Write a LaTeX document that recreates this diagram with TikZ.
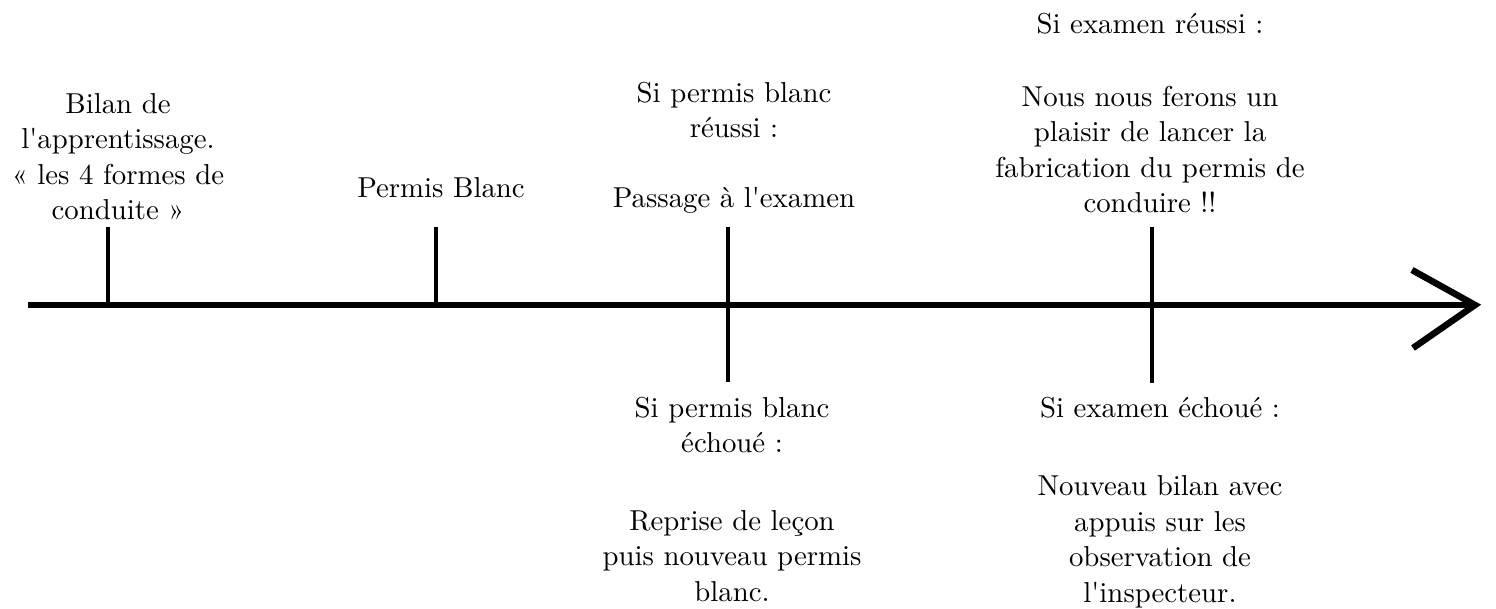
\documentclass[tikz,border=0pt]{standalone}
\usepackage{fontspec}
\setmainfont{lmroman10-regular}[Extension=.otf]
\begin{document}
\begin{tikzpicture}[x=1pt,y=-1pt,
  lbl/.style={align=center, inner sep=0pt, font=\rmfamily\fontsize{28.8}{35.5}\selectfont, anchor=base},
  axisline/.style={line width=6.5pt},
  tickline/.style={line width=4pt}]
\path[use as bounding box] (0,0) rectangle (1496,609);
% axis
\coordinate (start) at (28,305);
\coordinate (tip) at (1475,305);
\coordinate (armU) at (1412,270);
\coordinate (armL) at (1413,348);
\draw[axisline] (start) -- (tip);
\draw[axisline, line join=miter] (armU) -- (tip) -- (armL);
% ticks
\coordinate (t1) at (108,305);  \coordinate (t1top) at (108,227);
\coordinate (t2) at (436,305);  \coordinate (t2top) at (436,227);
\coordinate (t3top) at (728,227); \coordinate (t3bot) at (728,382);
\coordinate (t4top) at (1152,227); \coordinate (t4bot) at (1152,383);
\draw[tickline] (t1) -- (t1top);
\draw[tickline] (t2) -- (t2top);
\draw[tickline] (t3top) -- (t3bot);
\draw[tickline] (t4top) -- (t4bot);
% labels (anchored at the baseline of their last line)
\node[lbl] (bilan) at (118,220) {Bilan de\\l\textquotesingle apprentissage.\\« les 4 formes de\\conduite »};
\node[lbl] (blanc) at (441,198) {Permis Blanc};
\node[lbl] (reussiPB) at (734,208) {Si permis blanc\\réussi :\\[34.5pt]Passage à l\textquotesingle examen};
\node[lbl] (reussiEx) at (1150,213) {Si examen réussi :\\[37.5pt]Nous nous ferons un\\plaisir de lancer la\\fabrication du permis de\\conduire !!};
\node[lbl] (echecPB) at (732,601) {Si permis blanc\\échoué :\\[42pt]Reprise de leçon\\puis nouveau permis\\blanc.};
\node[lbl] (echecEx) at (1160,602) {Si examen échoué :\\[42.5pt]Nouveau bilan avec\\appuis sur les\\observation de\\l\textquotesingle inspecteur.};
\end{tikzpicture}
\end{document}
